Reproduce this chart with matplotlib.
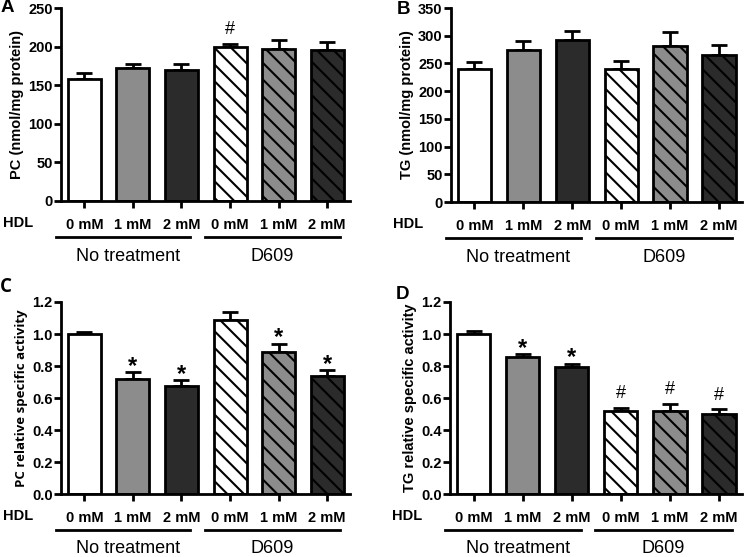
import numpy as np
import matplotlib as mpl
mpl.use('Agg')
import matplotlib.pyplot as plt

mpl.rcParams['font.family'] = ['Liberation Sans', 'DejaVu Sans']
mpl.rcParams['hatch.linewidth'] = 1.5

doses = ['0 mM', '1 mM', '2 mM', '0 mM', '1 mM', '2 mM']
groups = ['No treatment', 'D609']

pc_mean = [158, 172, 170, 199, 197, 196]
pc_err = [8, 5, 8, 5, 11, 10]
pc_sig = ['', '', '', '#', '', '']

tg_mean = [240, 275, 292, 240, 282, 266]
tg_err = [13, 16, 16, 14, 24, 17]
tg_sig = ['', '', '', '', '', '']

pc_act = [1.00, 0.72, 0.675, 1.085, 0.885, 0.74]
pc_act_err = [0.01, 0.04, 0.035, 0.05, 0.055, 0.035]
pc_act_sig = ['', '*', '*', '', '*', '*']

tg_act = [1.00, 0.855, 0.795, 0.52, 0.52, 0.50]
tg_act_err = [0.02, 0.02, 0.02, 0.02, 0.045, 0.03]
tg_act_sig = ['', '*', '*', '#', '#', '#']

fills = ['white', '#8c8c8c', '#2b2b2b', 'white', '#8c8c8c', '#2b2b2b']
hatches = [None, None, None, '\\\\', '\\\\', '\\\\']

W, H = 745, 557
fig = plt.figure(figsize=(W / 100, H / 100), dpi=100)


def make_ax(l, r, t, b):
    return fig.add_axes([l / W, 1 - b / H, (r - l) / W, (b - t) / H])


def panel(ax, mean, err, sig, ymax, step, ylabel, letter, fmt, lpos, alt_font=False):
    x = np.arange(len(mean))
    ax.bar(x, mean, width=0.68, color=fills, edgecolor='black', linewidth=2,
           hatch=hatches, zorder=2)
    ax.errorbar(x, mean, yerr=[np.zeros(len(err)), err], fmt='none', ecolor='black',
                elinewidth=2, capsize=5.5, capthick=2, zorder=1)
    for i in range(len(mean)):
        if sig[i] == '*':
            ax.annotate('*', (x[i], mean[i] + err[i]), xytext=(0, -4), textcoords='offset points',
                        ha='center', va='bottom', fontsize=17, fontweight='bold')
        elif sig[i] == '#':
            ax.annotate('#', (x[i], mean[i] + err[i]), xytext=(0, 4), textcoords='offset points',
                        ha='center', va='bottom', fontsize=13)
    ax.set_xlim(-0.48, 5.47)
    ax.set_ylim(0, ymax)
    ax.set_yticks(np.arange(0, ymax + step / 2, step))
    ax.yaxis.set_major_formatter(mpl.ticker.FormatStrFormatter(fmt))
    ax.set_xticks(x)
    ax.set_xticklabels(doses)
    for s in ['top', 'right']:
        ax.spines[s].set_visible(False)
    for s in ['left', 'bottom']:
        ax.spines[s].set_linewidth(2)
    ax.tick_params(axis='y', width=2, length=5, labelsize=10.5, pad=1)
    ax.tick_params(axis='x', width=2, length=5, labelsize=10.5, pad=7)
    for lab in ax.get_xticklabels() + ax.get_yticklabels():
        lab.set_fontweight('bold')
    yfont = ['Open Sans', 'DejaVu Sans'] if alt_font else ['Liberation Sans', 'DejaVu Sans']
    ax.set_ylabel(ylabel, fontsize=10.5 if not alt_font else 9.5, fontweight='bold',
                  family=yfont, labelpad=3)
    tr = ax.get_xaxis_transform()
    ax.text(-1.67, -0.112, 'HDL', transform=tr, ha='left', va='center',
            fontsize=10.5, fontweight='bold')
    ax.plot([-0.59, 2.18], [-0.188, -0.188], transform=tr, color='black', lw=2, clip_on=False)
    ax.plot([2.48, 5.26], [-0.188, -0.188], transform=tr, color='black', lw=2, clip_on=False)
    ax.text(0.9, -0.285, groups[0], transform=tr, ha='center', va='center', fontsize=13)
    ax.text(3.87, -0.285, groups[1], transform=tr, ha='center', va='center', fontsize=13)
    ax.text(lpos[0], lpos[1], letter, transform=ax.transAxes, ha='left', va='center',
            fontsize=13.5, fontweight='bold', family=yfont)


axA = make_ax(61, 350, 8, 201)
panel(axA, pc_mean, pc_err, pc_sig, 250, 50, 'PC (nmol/mg protein)', 'A', '%d', (-0.21, 1.0))
axB = make_ax(451, 742, 8, 202)
panel(axB, tg_mean, tg_err, tg_sig, 350, 50, 'TG (nmol/mg protein)', 'B', '%d', (-0.186, 0.99))
axC = make_ax(61, 350, 302, 494)
panel(axC, pc_act, pc_act_err, pc_act_sig, 1.2, 0.2, 'PC relative specific activity', 'C',
      '%.1f', (-0.21, 1.08), alt_font=True)
axD = make_ax(450, 742, 302, 494)
panel(axD, tg_act, tg_act_err, tg_act_sig, 1.2, 0.2, 'TG relative specific activity', 'D',
      '%.1f', (-0.185, 1.04))

fig.savefig('out.png', dpi=100)
